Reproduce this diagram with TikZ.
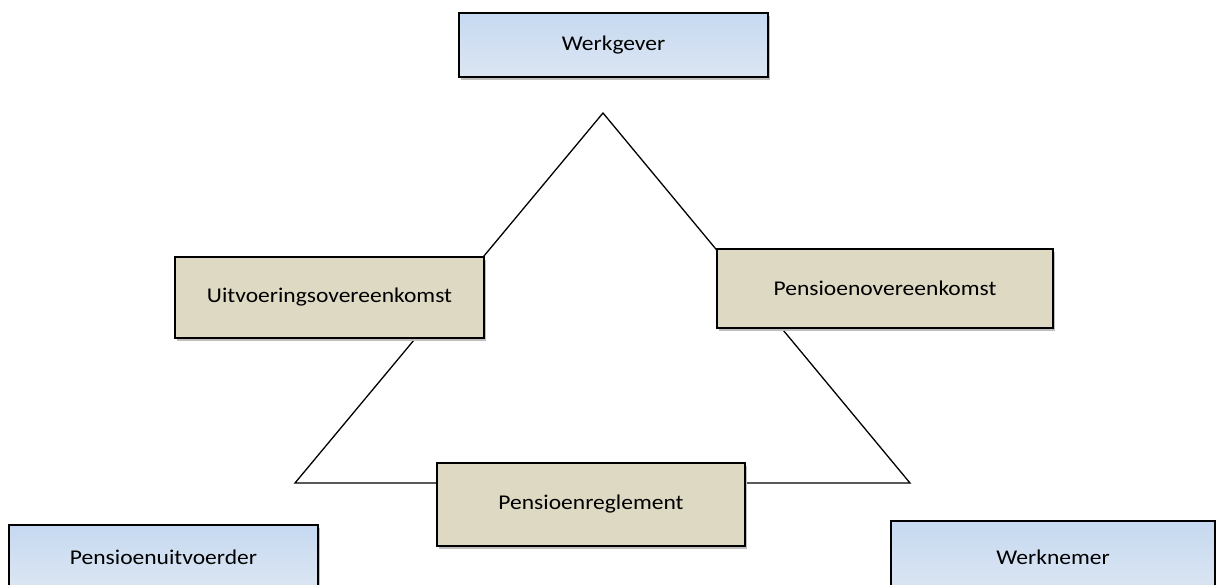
\documentclass[tikz,border=0pt]{standalone}
\usepackage{fontspec}
\setmainfont{Carlito}[FakeStretch=1.12]
\usetikzlibrary{shadows}
\definecolor{partyblue}{HTML}{C6D9F1}
\definecolor{partylight}{HTML}{DCE6F2}
\definecolor{deedtan}{HTML}{DDD9C3}
\begin{document}
\begin{tikzpicture}[x=1pt, y=-1pt,
        party/.style={draw=black, line width=1.5pt, top color=partyblue, bottom color=partylight,
            drop shadow={shadow xshift=2pt, shadow yshift=-3pt, fill=black!25, opacity=1},
            minimum width=309pt, minimum height=64pt, inner sep=0pt, font=\fontsize{21}{25}\selectfont},
        deed/.style={draw=black, line width=1.5pt, fill=deedtan,
            drop shadow={shadow xshift=2pt, shadow yshift=-3pt, fill=black!25, opacity=1},
            minimum width=309pt, minimum height=81pt, inner sep=0pt, font=\fontsize{21}{25}\selectfont}]
    \useasboundingbox (0,0) rectangle (1216,584);

    % Corners of the triangle
    \coordinate (apex) at (603,113);
    \coordinate (baseL) at (295,483);
    \coordinate (baseR) at (910,483);

    % Triangle behind the agreements
    \draw[line width=1.3pt, line join=miter] (apex) -- (baseL) -- (baseR) -- cycle;

    % The three parties
    \node[party] (werkgever) at (613.5,45) {Werkgever};
    \node[party] (uitvoerder) at (163.5,557) {Pensioenuitvoerder};
    \node[party, minimum width=324pt, minimum height=72pt] (werknemer) at (1053,557) {Werknemer};

    % The three agreements
    \node[deed] (uitvoering) at (329.5,297.5) {Uitvoeringsovereenkomst};
    \node[deed, minimum width=336pt, minimum height=79pt] (overeenkomst) at (885,288.5) {Pensioenovereenkomst};
    \node[deed, minimum width=308pt, minimum height=83pt] (reglement) at (591,504.5) {Pensioenreglement};
\end{tikzpicture}
\end{document}
